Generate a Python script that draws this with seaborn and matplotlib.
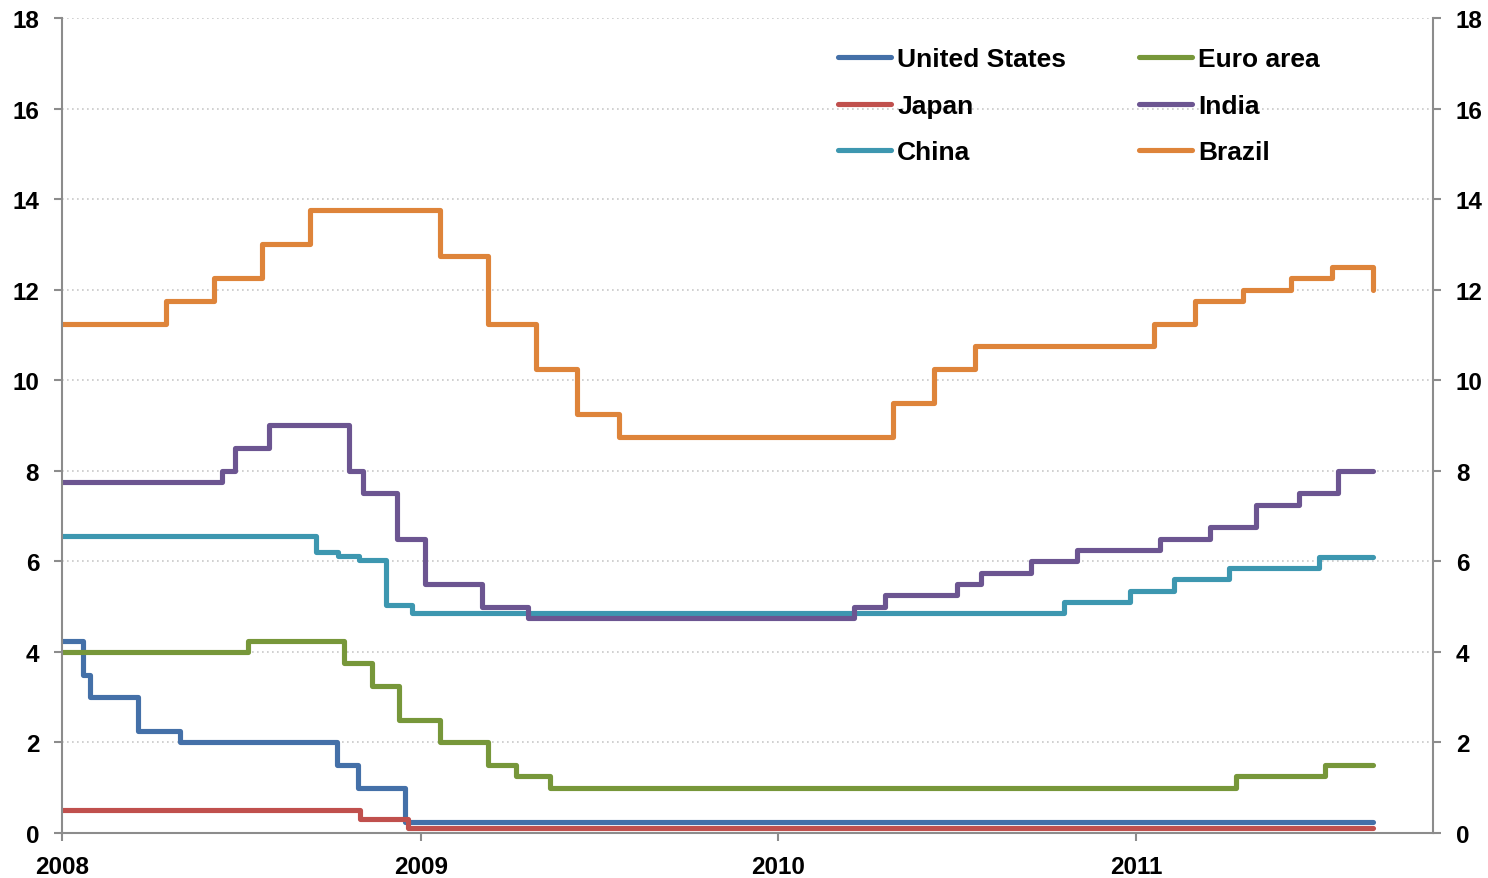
import matplotlib
matplotlib.use("Agg")
import matplotlib.dates as mdates
import matplotlib.pyplot as plt
import pandas as pd
import seaborn as sns

# Policy rate change dates and levels (percent)
END_DATE = "2011-08-31"

us_dates = ["2008-01-01", "2008-01-22", "2008-01-30", "2008-03-18", "2008-04-30",
            "2008-10-08", "2008-10-29", "2008-12-16"]
us_rates = [4.25, 3.5, 3.0, 2.25, 2.0, 1.5, 1.0, 0.25]

japan_dates = ["2008-01-01", "2008-10-31", "2008-12-19"]
japan_rates = [0.5, 0.3, 0.1]

china_dates = ["2008-01-01", "2008-09-16", "2008-10-09", "2008-10-30", "2008-11-27",
               "2008-12-23", "2010-10-20", "2010-12-26", "2011-02-09", "2011-04-06",
               "2011-07-07"]
china_rates = [6.57, 6.21, 6.12, 6.03, 5.04, 4.86, 5.10, 5.35, 5.60, 5.85, 6.10]

euro_dates = ["2008-01-01", "2008-07-09", "2008-10-15", "2008-11-12", "2008-12-10",
              "2009-01-21", "2009-03-11", "2009-04-08", "2009-05-13", "2011-04-13",
              "2011-07-13"]
euro_rates = [4.0, 4.25, 3.75, 3.25, 2.5, 2.0, 1.5, 1.25, 1.0, 1.25, 1.5]

india_dates = ["2008-01-01", "2008-06-12", "2008-06-25", "2008-07-30", "2008-10-20",
               "2008-11-03", "2008-12-08", "2009-01-05", "2009-03-05", "2009-04-21",
               "2010-03-19", "2010-04-20", "2010-07-02", "2010-07-27", "2010-09-16",
               "2010-11-02", "2011-01-25", "2011-03-17", "2011-05-03", "2011-06-16",
               "2011-07-26"]
india_rates = [7.75, 8.0, 8.5, 9.0, 8.0, 7.5, 6.5, 5.5, 5.0, 4.75, 5.0, 5.25, 5.5,
               5.75, 6.0, 6.25, 6.5, 6.75, 7.25, 7.5, 8.0]

brazil_dates = ["2008-01-01", "2008-04-16", "2008-06-04", "2008-07-23", "2008-09-10",
                "2009-01-21", "2009-03-11", "2009-04-29", "2009-06-10", "2009-07-22",
                "2010-04-28", "2010-06-09", "2010-07-21", "2011-01-19", "2011-03-02",
                "2011-04-20", "2011-06-08", "2011-07-20", "2011-08-31"]
brazil_rates = [11.25, 11.75, 12.25, 13.0, 13.75, 12.75, 11.25, 10.25, 9.25, 8.75,
                9.5, 10.25, 10.75, 11.25, 11.75, 12.0, 12.25, 12.5, 12.0]

series = {
    "United States": (us_dates, us_rates),
    "Japan": (japan_dates, japan_rates),
    "China": (china_dates, china_rates),
    "Euro area": (euro_dates, euro_rates),
    "India": (india_dates, india_rates),
    "Brazil": (brazil_dates, brazil_rates),
}
colors = {
    "United States": "#4470a8",
    "Japan": "#c0504d",
    "China": "#3d97b0",
    "Euro area": "#77973a",
    "India": "#6c5591",
    "Brazil": "#de843a",
}

frames = []
for name, (dates, rates) in series.items():
    d, r = list(dates), list(rates)
    # hold the last level until the end of the sample
    if d[-1] != END_DATE:
        d.append(END_DATE)
        r.append(r[-1])
    frames.append(pd.DataFrame({"date": pd.to_datetime(d), "rate": r, "country": name}))
df = pd.concat(frames, ignore_index=True)

sns.set_style("white")
plt.rcParams["font.family"] = ["Liberation Sans", "DejaVu Sans"]
plt.rcParams["font.weight"] = "bold"
plt.rcParams["text.color"] = "black"

fig = plt.figure(figsize=(14.88, 8.79), dpi=100)
ax = fig.add_axes([0.0417, 0.0512, 0.9213, 0.9272])

sns.lineplot(
    data=df, x="date", y="rate", hue="country",
    hue_order=list(series.keys()), palette=colors,
    drawstyle="steps-post", estimator=None, linewidth=3.7,
    solid_capstyle="round", ax=ax,
)

ax.set_xlim(pd.Timestamp("2008-01-01"), pd.Timestamp("2011-10-31"))
ax.set_ylim(0, 18)
ax.set_yticks(range(0, 19, 2))
ax.xaxis.set_major_locator(mdates.YearLocator())
ax.xaxis.set_major_formatter(mdates.DateFormatter("%Y"))
ax.set_xlabel("")
ax.set_ylabel("")

spine_color = "#8c8c8c"
for side in ["left", "right", "bottom"]:
    ax.spines[side].set_visible(True)
    ax.spines[side].set_color(spine_color)
    ax.spines[side].set_linewidth(1.5)
ax.spines["top"].set_visible(False)

ax.yaxis.grid(True, color="#c8c8c8", linestyle=(0, (1, 2)), linewidth=1.2)
ax.xaxis.grid(False)
ax.set_axisbelow(True)

ax.tick_params(axis="y", which="major", left=True, right=True, labelleft=True,
               labelright=True, length=6, width=1.5, color=spine_color,
               labelcolor="black", pad=10.5, labelsize=17.5)
ax.tick_params(axis="x", which="major", bottom=True, length=6, width=1.5,
               color=spine_color, labelcolor="black", pad=9.5, labelsize=17.5)
for lbl in ax.get_xticklabels() + ax.get_yticklabels():
    lbl.set_fontweight("bold")

leg = ax.legend(
    ncol=2, loc="upper left", bbox_to_anchor=(0.566, 0.964), frameon=False,
    prop={"weight": "bold", "size": 19}, handlelength=2.0, handletextpad=0.25,
    columnspacing=2.75, labelspacing=0.85, borderaxespad=0, borderpad=0,
)
for txt in leg.get_texts():
    txt.set_color("black")

fig.savefig("out.png", dpi=100)
